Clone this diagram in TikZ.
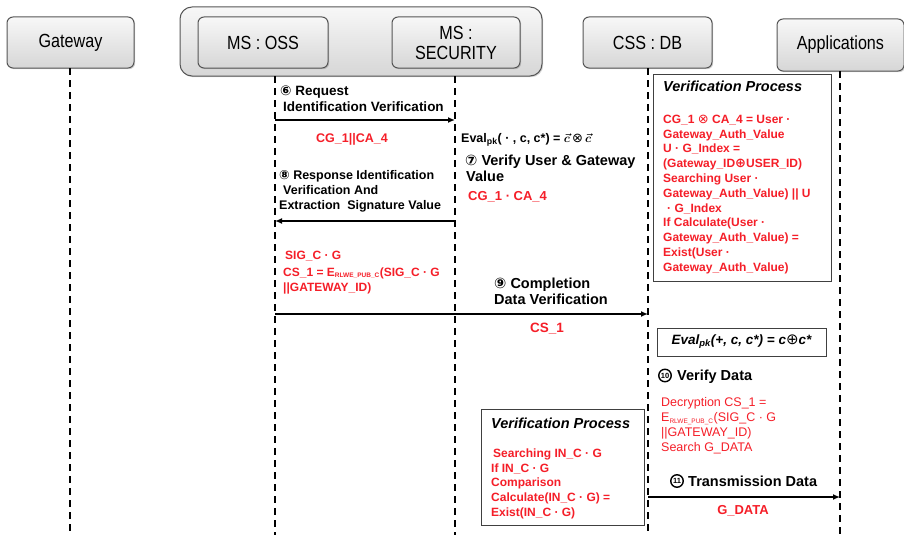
\documentclass[tikz,border=0pt]{standalone}
\usepackage{fontspec}
\usepackage{bm}
\setmainfont{Liberation Sans}
\newfontfamily\symfont{DejaVu Sans}
\newfontfamily\narrowfont[FakeStretch=0.85]{Liberation Sans}
\usetikzlibrary{arrows.meta,shadows}

\definecolor{redtxt}{RGB}{245,30,40}
\definecolor{boxline}{RGB}{85,85,85}

% small index used for E_{RLWE_PUB_C}
\newcommand\lowidx[1]{\textsubscript{\fontsize{6.5}{6.5}\selectfont #1}}
% circled operators set in DejaVu Sans
\newcommand\otim{{\symfont\mdseries\fontsize{13}{14}\selectfont ⊗}}
\newcommand\opl{{\symfont\fontsize{13}{14}\selectfont ⊕}}

\tikzset{
  actor/.style={draw=boxline, line width=1pt, rounded corners=6pt,
    top color=gray!6, bottom color=gray!32,
    drop shadow={shadow xshift=1.2pt, shadow yshift=-1.2pt, opacity=0.35},
    font=\narrowfont\fontsize{19}{20}\selectfont, align=center, inner sep=0pt},
  life/.style={line width=1.7pt, dash pattern=on 7pt off 5pt},
  msg/.style={line width=1.5pt, -{Latex[length=7pt,width=6pt]}},
  lbl/.style={anchor=base west, inner sep=0pt, font=\fontsize{13.5}{15}\selectfont\bfseries},
  biglbl/.style={anchor=base west, inner sep=0pt, font=\fontsize{14.5}{16}\selectfont\bfseries},
  rtxt/.style={anchor=base west, inner sep=0pt, text=redtxt, font=\fontsize{12}{14}\selectfont\bfseries},
  rplain/.style={anchor=base west, inner sep=0pt, text=redtxt, font=\fontsize{12.5}{14}\selectfont},
  procbox/.style={draw=black!75, line width=1pt, fill=white, inner sep=0pt},
  proctitle/.style={anchor=base west, inner sep=0pt, font=\fontsize{14.5}{16}\selectfont\bfseries\itshape},
  circnum/.style={circle, draw, line width=1.4pt, inner sep=0pt, minimum size=12.5pt,
    font=\fontsize{7.5}{8}\selectfont\bfseries},
}

\begin{document}
\begin{tikzpicture}[x=1pt, y=-1pt]
\useasboundingbox (0,0) rectangle (904,535);

% ---- participants ----
\node[actor, minimum width=127pt, minimum height=51pt] (gw) at (70.5,42.5) {Gateway};
\node[actor, rounded corners=12pt, minimum width=362pt, minimum height=69pt] (ms) at (361,41.5) {};
\node[actor, minimum width=130pt, minimum height=51pt] (oss) at (263,42.5) {MS : OSS};
\node[actor, minimum width=128pt, minimum height=51pt] (sec) at (456,42.5) {MS :\\SECURITY};
\node[actor, minimum width=129pt, minimum height=51pt] (css) at (647.5,42.5) {CSS : DB};
\node[actor, minimum width=127pt, minimum height=52pt] (app) at (840.5,45) {Applications};

% ---- lifelines ----
\coordinate (gwT)  at (70,68);   \coordinate (gwB)  at (70,535);
\coordinate (ossT) at (275,76);  \coordinate (ossB) at (275,535);
\coordinate (secT) at (455,76);  \coordinate (secB) at (455,535);
\coordinate (cssT) at (648,68);  \coordinate (cssB) at (648,535);
\coordinate (appT) at (840,71);  \coordinate (appB) at (840,535);
\foreach \l in {gw,oss,sec,css,app}
  \draw[life] (\l T) -- (\l B);

% ---- message end points ----
\coordinate (m6a) at (275,120); \coordinate (m6b) at (455,120);
\coordinate (m8a) at (455,221); \coordinate (m8b) at (275,221);
\coordinate (m9a) at (275,314); \coordinate (m9b) at (648,314);
\coordinate (m11a) at (648,497); \coordinate (m11b) at (840,497);

\draw[msg] (m6a) -- (m6b);
\draw[msg] (m8a) -- (m8b);
\draw[msg] (m9a) -- (m9b);
\draw[msg] (m11a) -- (m11b);

% ---- step 6 ----
\node[lbl] (s6a) at (280,95) {{\symfont ⑥} Request};
\node[lbl] (s6b) at (283,111) {Identification Verification};
\node[rtxt, font=\fontsize{12.5}{14}\selectfont\bfseries, anchor=base] (s6c) at (352,142) {CG\_1||CA\_4};

% ---- step 7 ----
\node[lbl, font=\fontsize{12.5}{14}\selectfont\bfseries] (s7e) at (461,142)
  {Eval\textsubscript{pk}( · , c, c*) = $\bm{\vec{c}}$\,\otim\,$\bm{\vec{c}}$};
\node[biglbl] (s7a) at (465,165) {{\symfont ⑦} Verify User \& Gateway};
\node[biglbl] (s7b) at (466,181) {Value};
\node[rtxt, font=\fontsize{13}{14}\selectfont\bfseries] (s7c) at (468,200) {CG\_1 · CA\_4};

% ---- step 8 ----
\node[lbl, font=\fontsize{12.5}{14}\selectfont\bfseries] (s8a) at (279,179) {{\symfont ⑧} Response Identification};
\node[lbl, font=\fontsize{12.5}{14}\selectfont\bfseries] (s8b) at (283,194) {Verification And};
\node[lbl, font=\fontsize{12.5}{14}\selectfont\bfseries] (s8c) at (279,209) {Extraction\ \ Signature Value};
\node[rtxt] (s8d) at (285,259) {SIG\_C · G};
\node[rtxt] (s8e) at (283,276) {CS\_1 = E\lowidx{RLWE\_PUB\_C}(SIG\_C · G};
\node[rtxt] (s8f) at (283,291) {||GATEWAY\_ID)};

% ---- step 9 ----
\node[biglbl] (s9a) at (494,288) {{\symfont ⑨} Completion};
\node[biglbl] (s9b) at (494,304) {Data Verification};
\node[rtxt, font=\fontsize{13.5}{15}\selectfont\bfseries, anchor=base] (s9c) at (547,332) {CS\_1};

% ---- verification process at CSS : DB ----
\node[procbox, minimum width=178pt, minimum height=207pt] (vpA) at (742,177.5) {};
\node[proctitle] (vpAt) at (663,92) {Verification Process};
\foreach \t [count=\i] in {
  {CG\_1 \otim\ CA\_4 = User ·},
  {Gateway\_Auth\_Value},
  {U · G\_Index =},
  {(Gateway\_ID\opl USER\_ID)},
  {Searching User ·},
  {Gateway\_Auth\_Value) || U},
  {\hspace{4pt}· G\_Index},
  {If Calculate(User ·},
  {Gateway\_Auth\_Value) =},
  {Exist(User ·},
  {Gateway\_Auth\_Value)}}
  \node[rtxt] (vpA\i) at (663,{123.3+14.8*(\i-1)}) {\t};

% ---- step 10 ----
\node[procbox, minimum width=169pt, minimum height=28pt,
  font=\fontsize{13.5}{15}\selectfont\bfseries\itshape] (eval) at (741.5,342)
  {Eval\textsubscript{pk}(+, c, c*) = c{\symfont\mdseries\upshape\fontsize{15}{15}\selectfont ⊕}c*};
\node[circnum] (c10) at (665,375.5) {10};
\node[biglbl] (s10a) at (677,380.5) {Verify Data};
\node[rplain] (s10b) at (661,406.3) {Decryption CS\_1 =};
\node[rplain] (s10c) at (661,421.3) {E\lowidx{RLWE\_PUB\_C}(SIG\_C · G};
\node[rplain] (s10d) at (661,436.3) {||GATEWAY\_ID)};
\node[rplain] (s10e) at (661,451.3) {Search G\_DATA};

% ---- verification process at MS : SECURITY ----
\node[procbox, minimum width=163pt, minimum height=116pt] (vpB) at (562.5,467) {};
\node[proctitle] (vpBt) at (491,428) {Verification Process};
\foreach \t [count=\i] in {
  {\hspace{2pt}Searching IN\_C · G},
  {If IN\_C · G},
  {Comparison},
  {Calculate(IN\_C · G) =},
  {Exist(IN\_C · G)}}
  \node[rtxt] (vpB\i) at (491,{457.3+14.8*(\i-1)}) {\t};

% ---- step 11 ----
\node[circnum] (c11) at (677,481) {11};
\node[biglbl] (s11a) at (688,486) {Transmission Data};
\node[rtxt, font=\fontsize{13}{14}\selectfont\bfseries, anchor=base] (s11b) at (743,514.5) {G\_DATA};

\end{tikzpicture}
\end{document}
